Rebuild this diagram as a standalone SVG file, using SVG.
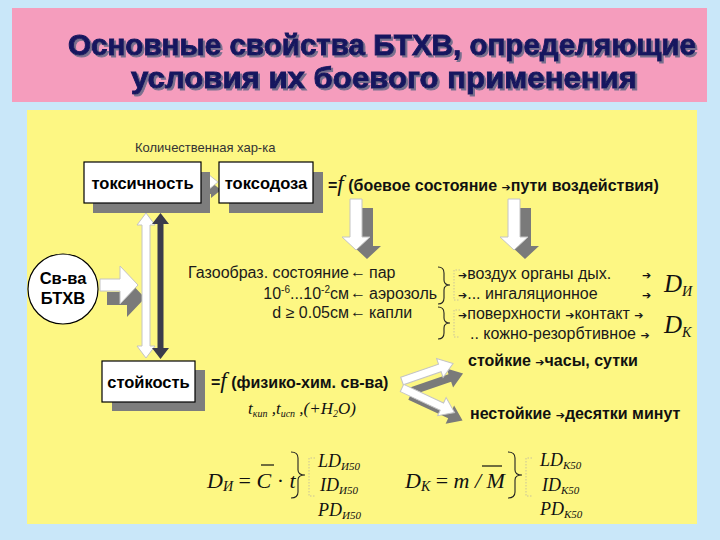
<svg xmlns="http://www.w3.org/2000/svg" width="720" height="540" viewBox="0 0 720 540">
<defs>
<filter id="tsh" x="-5%" y="-20%" width="110%" height="150%">
<feDropShadow dx="2" dy="2" stdDeviation="0.6" flood-color="#6a6a88" flood-opacity="0.9"/>
</filter>
<style>
.box{fill:#fff;stroke:#000;stroke-width:1.2}
.sh{fill:#7d7d7d}
.wa{fill:#fff;stroke:#c4c4c4;stroke-width:1}
.ga{fill:#7a7a7a}
.bt{font-family:"Liberation Sans",Arial,sans-serif;font-weight:bold;font-size:16.5px;fill:#000}
.b14{font-family:"Liberation Sans",Arial,sans-serif;font-weight:bold;font-size:16px;fill:#111}
.t{font-family:"Liberation Sans",Arial,sans-serif;font-size:16px;fill:#1a1a1a}
.ar{font-family:"DejaVu Sans",sans-serif;font-size:11px}
.m{font-family:"Liberation Serif","Times New Roman",serif;font-style:italic;fill:#111}
.brace{fill:none;stroke:#222;stroke-width:1.1}
.dot{fill:none;stroke:#c9c39a;stroke-width:1;stroke-dasharray:1.5 1.5}
.title{font-family:"Liberation Sans",Arial,sans-serif;font-weight:bold;font-size:29px;text-anchor:middle;fill:#15155f;stroke:#15155f;stroke-width:0.9}
</style>
</defs>
<rect x="0" y="0" width="720" height="540" fill="#c9e7f9"/>
<g id="header">
<rect x="12" y="8" width="695" height="94" fill="#f59dbd"/>
<g filter="url(#tsh)">
<text class="title" x="382" y="55" textLength="628" lengthAdjust="spacingAndGlyphs">Основные свойства БТХВ, определяющие</text>
<text class="title" x="384" y="88" textLength="506" lengthAdjust="spacingAndGlyphs">условия их боевого применения</text>
</g>
</g>
<rect x="27" y="110" width="670" height="414" fill="#fdf783"/>

<g id="connectors">
<path class="ga" d="M203,186 h8 v-4 l10,8 l-10,8 v-4 h-8 z"/>
<path class="wa" d="M200,178 h8 v-4 l10,8 l-10,8 v-4 h-8 z"/>
<path class="ga" d="M361,208 h12 v38 h8 l-14,13 l-14,-13 h8 z"/>
<path class="wa" d="M350,199 h12 v38 h8 l-14,13 l-14,-13 h8 z"/>
<path class="ga" d="M519,208 h12 v38 h8 l-14,13 l-14,-13 h8 z"/>
<path class="wa" d="M508,199 h12 v38 h8 l-14,13 l-14,-13 h8 z"/>
<path class="ga" d="M107,292 H127 V279 L145,298 L127,317 V305 H107 Z"/>
<path class="wa" d="M100,279 H120 V266 L138,285 L120,304 V291 H100 Z"/>
<path class="wa" d="M146,213 L155,225 H150 V346 H155 L146,358 L137,346 H142 V225 H137 Z"/>
<path fill="#3b3b4b" d="M160.5,213 L169,224 H163.5 V348 H169 L160.5,359 L152,348 H157.5 V224 H152 Z"/>
<path class="ga" transform="translate(412,391) rotate(-19)" d="M0,-4 H40 V-10 L54,0 L40,10 V4 H0 Z"/>
<path class="wa" transform="translate(402,381) rotate(-19)" d="M0,-4 H40 V-10 L54,0 L40,10 V4 H0 Z"/>
<path class="ga" transform="translate(410,396) rotate(25)" d="M0,-4 H44 V-10 L58,0 L44,10 V4 H0 Z"/>
<path class="wa" transform="translate(402,388) rotate(25)" d="M0,-4 H44 V-10 L58,0 L44,10 V4 H0 Z"/>
<path class="brace" d="M438,267 Q444,267 444,273 L444,280 Q444,285 450,285 Q444,285 444,290 L444,298 Q444,304 438,304"/>
<path class="brace" d="M438,307 Q444,307 444,313 L444,318 Q444,323 450,323 Q444,323 444,328 L444,333 Q444,339 438,339"/>
<path class="dot" d="M460,270 H454 V300 H460"/>
<path class="dot" d="M460,310 H454 V337 H460"/>
<path class="brace" d="M291,452 Q298,452 298,458 L298,470 Q298,475 305,475 Q298,475 298,480 L298,492 Q298,498 291,498"/>
<path class="dot" d="M315,458 H309 V496 H315"/>
<path class="brace" d="M508,452 Q515,452 515,458 L515,470 Q515,475 522,475 Q515,475 515,480 L515,492 Q515,498 508,498"/>
<path class="dot" d="M532,458 H526 V496 H532"/>
</g>

<text x="135" y="152" font-family="Liberation Sans, Arial, sans-serif" font-size="13" fill="#333">Количественная  хар-ка</text>

<g id="toxicity">
<rect class="sh" x="93" y="172" width="117" height="41"/>
<rect class="box" x="84" y="162" width="117" height="41"/>
<text class="bt" x="142.5" y="189" text-anchor="middle">токсичность</text>
</g>
<g id="toxodose">
<rect class="sh" x="229" y="172" width="94" height="41"/>
<rect class="box" x="219" y="162" width="94" height="41"/>
<text class="bt" x="266" y="189" text-anchor="middle">токсодоза</text>
</g>
<g id="stability">
<rect class="sh" x="112" y="370" width="93" height="41"/>
<rect class="box" x="102" y="361" width="93" height="41"/>
<text class="bt" x="148.5" y="388" text-anchor="middle">стойкость</text>
</g>
<g id="btxv">
<circle cx="63" cy="289" r="35" fill="#fff" stroke="#000" stroke-width="1.2"/>
<text class="bt" x="63" y="284" text-anchor="middle">Св-ва</text>
<text class="bt" x="63" y="304" text-anchor="middle">БТХВ</text>
</g>

<g id="toxodose-formula">
<text class="b14" x="328" y="191">=<tspan class="m" style="font-weight:normal;font-size:23px">f</tspan>  (боевое состояние <tspan class="ar">➔</tspan>пути воздействия)</text>
</g>

<g id="states">
<text class="t" x="349" y="278" text-anchor="end">Газообраз. состояние</text>
<text class="t" x="358" y="277" text-anchor="middle" font-size="12">←</text>
<text class="t" x="369" y="278">пар</text>
<text class="t" x="349" y="299" text-anchor="end">10<tspan dy="-6" font-size="10">-6</tspan><tspan dy="6">...10</tspan><tspan dy="-6" font-size="10">-2</tspan><tspan dy="6">см</tspan></text>
<text class="t" x="358" y="298" text-anchor="middle" font-size="12">←</text>
<text class="t" x="369" y="299">аэрозоль</text>
<text class="t" x="349" y="318" text-anchor="end">d ≥ 0.05см</text>
<text class="t" x="358" y="317" text-anchor="middle" font-size="12">←</text>
<text class="t" x="369" y="318">капли</text>
</g>

<g id="routes">
<text class="t" x="458" y="279"><tspan class="ar">➔</tspan>воздух органы  дых.</text>
<text class="t" x="458" y="299"><tspan class="ar">➔</tspan>... ингаляционное</text>
<text class="t" x="458" y="319"><tspan class="ar">➔</tspan>поверхности <tspan class="ar">➔</tspan>контакт <tspan class="ar">➔</tspan></text>
<text class="t" x="470" y="339">.. кожно-резорбтивное <tspan class="ar">➔</tspan></text>
<text class="ar" x="642" y="279" fill="#111">➔</text>
<text class="ar" x="642" y="299" fill="#111">➔</text>
<text class="m" x="664" y="292" font-size="25">D<tspan font-size="14" dy="4">И</tspan></text>
<text class="m" x="664" y="333" font-size="25">D<tspan font-size="14" dy="4">К</tspan></text>
</g>

<g id="stability-formula">
<text class="b14" x="211" y="388">=<tspan class="m" style="font-weight:normal;font-size:23px">f</tspan> (физико-хим. св-ва)</text>
<text class="m" x="248" y="414" font-size="17">t<tspan font-size="10" dy="3">кип</tspan><tspan dy="-3"> ,t</tspan><tspan font-size="10" dy="3">исп</tspan><tspan dy="-3"> ,(+H</tspan><tspan font-size="10" dy="3">2</tspan><tspan dy="-3">O)</tspan></text>
</g>

<g id="persistence">
<text class="b14" x="468" y="366">стойкие <tspan class="ar">➔</tspan>часы, сутки</text>
<text class="b14" x="470" y="419">нестойкие <tspan class="ar">➔</tspan>десятки минут</text>
</g>

<g id="dose-inhal">
<text class="m" x="207" y="488" font-size="22">D<tspan font-size="14" dy="3">И</tspan><tspan dy="-3" font-style="normal"> = </tspan>C <tspan font-style="normal">·</tspan> t</text>
<line x1="261" y1="465" x2="274" y2="465" stroke="#111" stroke-width="1.2"/>
<text class="m" x="318" y="467" font-size="18">LD<tspan font-size="11" dy="3">И50</tspan></text>
<text class="m" x="320" y="491" font-size="18">ID<tspan font-size="11" dy="3">И50</tspan></text>
<text class="m" x="318" y="516" font-size="18">PD<tspan font-size="11" dy="3">И50</tspan></text>
</g>

<g id="dose-contact">
<text class="m" x="405" y="488" font-size="22">D<tspan font-size="14" dy="3">К</tspan><tspan dy="-3" font-style="normal"> = </tspan>m / M</text>
<line x1="482" y1="466" x2="502" y2="466" stroke="#111" stroke-width="1.2"/>
<text class="m" x="540" y="466" font-size="18">LD<tspan font-size="11" dy="3">К50</tspan></text>
<text class="m" x="542" y="491" font-size="18">ID<tspan font-size="11" dy="3">К50</tspan></text>
<text class="m" x="540" y="515" font-size="18">PD<tspan font-size="11" dy="3">К50</tspan></text>
</g>
</svg>
